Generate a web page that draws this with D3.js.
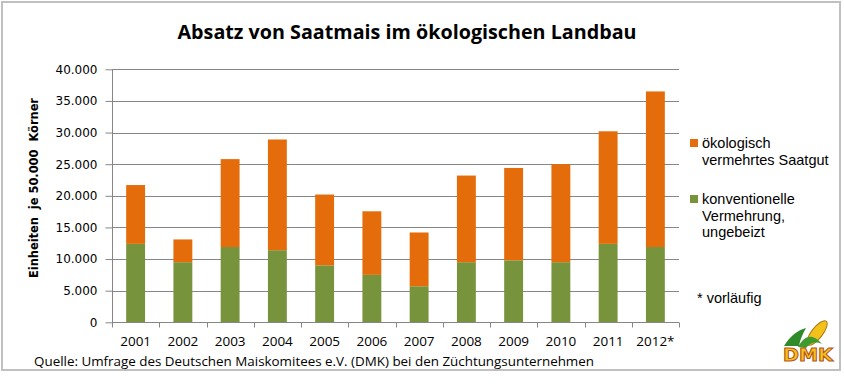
<!DOCTYPE html>
<html>
<head>
<meta charset="utf-8">
<script src="https://cdn.jsdelivr.net/npm/d3@7"></script>
<style>
  body { margin: 0; background: #fff; }
  svg { display: block; }
</style>
</head>
<body>
<div id="chart"></div>
<script>
// Daten (Einheiten je 50.000 Körner)
var years = ["2001", "2002", "2003", "2004", "2005", "2006", "2007", "2008", "2009", "2010", "2011", "2012*"];
var konventionell = [12400, 9500, 11900, 11400, 9000, 7500, 5700, 9500, 9800, 9500, 12400, 11900];
var oekologisch = [9300, 3600, 13900, 17500, 11200, 10050, 8500, 13700, 14600, 15500, 17800, 24600];
var yTicks = [0, 5000, 10000, 15000, 20000, 25000, 30000, 35000, 40000];

(function() {
    var width = 844, height = 385;
    var plotLeft = 112, plotRight = 679, plotTop = 69.3, plotBottom = 322.3;
    var colOeko = "#E46C0A", colKonv = "#77933C", gridCol = "#868686";

    var svg = d3.select("#chart").append("svg")
        .attr("width", width)
        .attr("height", height);

    // Rahmen
    svg.append("rect")
        .attr("x", 2).attr("y", 2)
        .attr("width", 838).attr("height", 368)
        .attr("fill", "#fff")
        .attr("stroke", "#c0c0c0")
        .attr("stroke-width", 2);

    svg.append("text")
        .attr("x", 407).attr("y", 39)
        .attr("text-anchor", "middle")
        .attr("textLength", 459).attr("lengthAdjust", "spacingAndGlyphs")
        .style("font-family", "'Open Sans', sans-serif")
        .style("font-weight", "bold")
        .style("font-size", "20px")
        .text("Absatz von Saatmais im ökologischen Landbau");

    var x = d3.scaleBand()
        .domain(years)
        .range([plotLeft, plotRight])
        .paddingInner(0.6)
        .paddingOuter(0.3);

    var y = d3.scaleLinear()
        .domain([0, 40000])
        .range([plotBottom, plotTop]);

    // Gitterlinien
    svg.append("g").selectAll("line")
        .data(yTicks.slice(1))
        .enter().append("line")
        .attr("x1", plotLeft).attr("x2", plotRight)
        .attr("y1", function(d) { return Math.round(y(d)) + 0.5; })
        .attr("y2", function(d) { return Math.round(y(d)) + 0.5; })
        .attr("stroke", gridCol)
        .attr("stroke-width", 1);

    // Balken (gestapelt)
    var stackData = years.map(function(yr, i) {
        return { year: yr, konv: konventionell[i], oeko: oekologisch[i] };
    });
    var layers = d3.stack().keys(["konv", "oeko"])(stackData);
    var colors = { konv: colKonv, oeko: colOeko };

    svg.append("g").selectAll("g")
        .data(layers)
        .enter().append("g")
        .attr("fill", function(d) { return colors[d.key]; })
        .selectAll("rect")
        .data(function(d) { return d; })
        .enter().append("rect")
        .attr("x", function(d) { return x(d.data.year); })
        .attr("width", x.bandwidth())
        .attr("y", function(d) { return y(d[1]); })
        .attr("height", function(d) { return y(d[0]) - y(d[1]); });

    // Y-Achse
    var yAxis = d3.axisLeft(y)
        .tickValues(yTicks)
        .tickSize(7)
        .tickPadding(8)
        .tickFormat(function(d) { return d3.format(",")(d).replace(/,/g, "."); });

    var yg = svg.append("g")
        .attr("transform", "translate(" + (plotLeft + 0.5) + ",0)")
        .call(yAxis);
    yg.select(".domain").attr("stroke", gridCol).attr("d", "M0," + plotTop + "V" + plotBottom);
    yg.selectAll(".tick line").attr("stroke", gridCol);
    yg.selectAll(".tick text")
        .style("font-family", "'DejaVu Sans', sans-serif")
        .style("font-size", "12px")
        .attr("fill", "#000");

    // X-Achse
    var xAxis = d3.axisBottom(x).tickSize(0).tickPadding(14);
    var xg = svg.append("g")
        .attr("transform", "translate(0," + (Math.round(plotBottom) + 0.5) + ")")
        .call(xAxis);
    xg.select(".domain").attr("stroke", gridCol).attr("d", "M" + plotLeft + ",0H" + plotRight);
    xg.selectAll(".tick text")
        .style("font-family", "'Open Sans', sans-serif")
        .style("font-size", "13.5px")
        .attr("fill", "#000");

    // Trennstriche zwischen Kategorien
    var sep = d3.range(years.length + 1).map(function(i) { return plotLeft + i * x.step(); });
    xg.selectAll(".sep")
        .data(sep)
        .enter().append("line")
        .attr("class", "sep")
        .attr("x1", function(d) { return Math.round(d) + 0.5; })
        .attr("x2", function(d) { return Math.round(d) + 0.5; })
        .attr("y1", 0).attr("y2", 5)
        .attr("stroke", gridCol);

    // Achsentitel
    svg.append("text")
        .attr("transform", "translate(38,188) rotate(-90)")
        .attr("text-anchor", "middle")
        .attr("textLength", 180).attr("lengthAdjust", "spacingAndGlyphs")
        .style("font-family", "'DejaVu Sans', sans-serif")
        .style("font-weight", "bold")
        .style("font-size", "12.5px")
        .style("white-space", "pre")
        .text("Einheiten  je 50.000  Körner");

    // Legende
    var legend = [
        { color: colOeko, lines: ["ökologisch", "vermehrtes Saatgut"], y: 148 },
        { color: colKonv, lines: ["konventionelle", "Vermehrung,", "ungebeizt"], y: 204 }
    ];
    var lg = svg.selectAll(".legend")
        .data(legend)
        .enter().append("g")
        .attr("class", "legend");
    lg.append("rect")
        .attr("x", 690).attr("y", function(d) { return d.y - 9; })
        .attr("width", 8).attr("height", 8)
        .attr("fill", function(d) { return d.color; });
    lg.each(function(d) {
        var t = d3.select(this).append("text")
            .style("font-family", "'Liberation Sans', Arial, sans-serif")
            .style("font-size", "14.5px")
            .attr("fill", "#000");
        d.lines.forEach(function(line, i) {
            t.append("tspan")
                .attr("x", 702)
                .attr("y", d.y + i * 16.5)
                .text(line);
        });
    });

    svg.append("text")
        .attr("x", 697).attr("y", 303)
        .style("font-family", "'Liberation Sans', Arial, sans-serif")
        .style("font-size", "14.5px")
        .text("* vorläufig");

    // Quelle
    svg.append("text")
        .attr("x", 34).attr("y", 366)
        .attr("textLength", 560).attr("lengthAdjust", "spacingAndGlyphs")
        .style("font-family", "'Open Sans', sans-serif")
        .style("font-size", "13px")
        .text("Quelle: Umfrage des Deutschen Maiskomitees e.V. (DMK) bei den Züchtungsunternehmen");

    // DMK-Logo (vereinfacht)
    var logo = svg.append("g");
    logo.append("path")
        .attr("d", "M784,346 C790,336 798,330 806,328 C802,335 800,340 799,346 Z")
        .attr("fill", "#2f8a2a");
    logo.append("ellipse")
        .attr("cx", 817).attr("cy", 333)
        .attr("rx", 5.5).attr("ry", 15)
        .attr("transform", "rotate(38,817,333)")
        .attr("fill", "#f2c21b")
        .attr("stroke", "#a8791a")
        .attr("stroke-width", 1);
    logo.append("path")
        .attr("d", "M798,347 C804,336 812,332 822,344 C815,341 810,343 806,348 Z")
        .attr("fill", "#3f9a2e");
    logo.append("text")
        .attr("x", 808).attr("y", 361)
        .attr("text-anchor", "middle")
        .attr("textLength", 50).attr("lengthAdjust", "spacingAndGlyphs")
        .style("font-family", "'DejaVu Sans', sans-serif")
        .style("font-weight", "bold")
        .style("font-size", "17px")
        .attr("fill", "#f5c21b")
        .attr("stroke", "#b5561a")
        .attr("stroke-width", 1)
        .text("DMK");
})();
</script>
</body>
</html>
